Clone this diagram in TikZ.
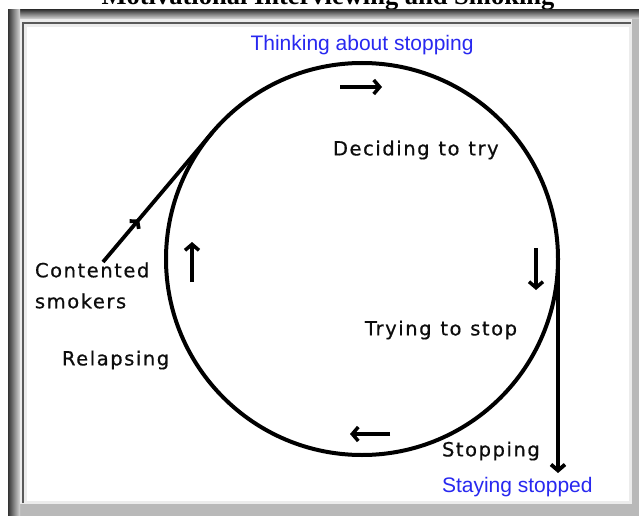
\documentclass[tikz,border=0pt]{standalone}
\usepackage{fontspec}
\setmainfont{Liberation Serif}
\newfontfamily\stagefont[LetterSpace=8,FakeBold=0.6]{DejaVu Sans}
\newfontfamily\goalfont{Liberation Sans}
\usepackage{xcolor}
\usetikzlibrary{calc, arrows.meta, decorations.markings, positioning}
\definecolor{stageblue}{RGB}{40,40,240}
\newcommand{\stagestyle}{\stagefont\fontsize{19.5}{31}\selectfont\spaceskip=0.45em\relax}

\begin{document}
\begin{tikzpicture}[
  x=1pt, y=-1pt,
  >={Straight Barb[length=6pt,width=14pt]},
  every node/.style={inner sep=0pt, outer sep=0pt},
  stage/.style={font=\stagestyle, text=black!95, anchor=west, align=left},
  goal/.style={font=\goalfont\fontsize{21}{25}\selectfont, text=stageblue},
  flow/.style={->, line width=3.5pt},
  link/.style={line width=3.8pt}
]
\useasboundingbox (0,0) rectangle (639,516);
\node[font=\bfseries\fontsize{26.5}{30}\selectfont, anchor=base] (title) at (328,5) {Motivational Interviewing and Smoking};
% frame
\fill[gray!55] (8,9.5) rectangle (640,517);
\shade[top color=black!80, bottom color=gray!30] (8,9.5) rectangle (640,19);
\shade[left color=black!80, right color=gray!30] (8,9.5) rectangle (20,517);
\fill[gray!15] (20,19) rectangle (632,504);
\draw[black!65, line width=2pt] (23,503) -- (23,23) -- (631,23);
\fill[white] (27,27) rectangle (629,501);
% cycle
\node[circle, draw, line width=4pt, minimum size=392pt] (cycle) at (362,259) {};
\draw[flow] (340,87) -- ++(42,0);
\draw[flow] (536,248) -- ++(0,42);
\draw[flow] (390,434) -- ++(-40,0);
\draw[flow] (192,282) -- ++(0,-40);
\node[goal] (think-label) at (362,45) {Thinking about stopping};
\node[stage] (decide-label) at (333,150) {Deciding to try};
\node[stage] (try-label) at (365,330) {Trying to stop};
\node[stage] (stop-label) at (442,451) {Stopping};
\node[goal, anchor=west] (stay-label) at (442,487) {Staying stopped};
\node[stage] (smokers-label) at (35,285.5) {Contented\\smokers};
\node[stage] (relapse-label) at (62,360) {Relapsing};
\coordinate (smokers-start) at (103,262);
\coordinate (stay-tip) at (558,473);
\draw[link, postaction={decorate}, decoration={markings, mark=at position 0.33 with {\arrow{Straight Barb[length=5pt,width=12pt]}}}]
  (smokers-start) -- (tangent cs:node=cycle,point={(smokers-start)},solution=2);
\draw[link, ->] (cycle.east) -- (stay-tip);
\end{tikzpicture}
\end{document}
